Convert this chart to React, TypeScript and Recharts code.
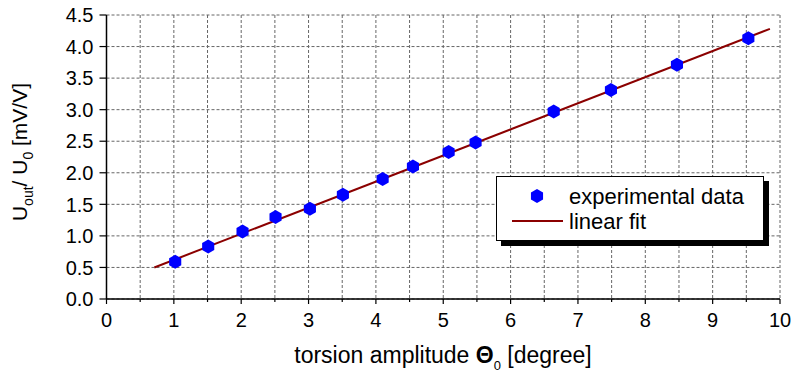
import React from 'react';
import { ComposedChart, Scatter, XAxis, YAxis, CartesianGrid } from 'recharts';

// measured points
const expX = [1.02, 1.51, 2.02, 2.51, 3.02, 3.51, 4.1, 4.55, 5.08, 5.48, 6.64, 7.49, 8.47, 9.53];
const expY = [0.59, 0.83, 1.07, 1.3, 1.43, 1.65, 1.9, 2.1, 2.33, 2.48, 2.97, 3.31, 3.71, 4.13];

// linear fit end points
const fitX = [0.71, 9.85];
const fitY = [0.5, 4.28];

const xTicks = [0, 0.5, 1, 1.5, 2, 2.5, 3, 3.5, 4, 4.5, 5, 5.5, 6, 6.5, 7, 7.5, 8, 8.5, 9, 9.5, 10];
const yTicks = [0, 0.5, 1, 1.5, 2, 2.5, 3, 3.5, 4, 4.5];
const yMinorTicks = [0, 0.25, 0.5, 0.75, 1, 1.25, 1.5, 1.75, 2, 2.25, 2.5, 2.75, 3, 3.25, 3.5, 3.75, 4, 4.25, 4.5];
const topTicks = [0, 1, 2, 3, 4, 5, 6, 7, 8, 9, 10, 11, 12, 13, 14, 15, 16, 17, 18, 19, 20, 21];
const rightTicks = [0, 1, 2, 3, 4, 5, 6, 7, 8, 9, 10, 11, 12, 13, 14, 15, 16, 17, 18, 19, 20, 21, 22, 23];
const yDomain = [0, 4.5];

const expData = expX.map((x, i) => ({ x, y: expY[i] }));
const fitData = fitX.map((x, i) => ({ x, y: fitY[i] }));

const FONT = '"Liberation Sans", Arial, Helvetica, sans-serif';
const BLUE = '#0000ff';
const RED = '#8b0000';

const Hexagon = ({ cx, cy, r = 7, fill = BLUE }: any) => {
  const pts = [-90, -30, 30, 90, 150, 210]
    .map((a) => {
      const t = (a * Math.PI) / 180;
      return `${cx + r * Math.cos(t)},${cy + r * Math.sin(t)}`;
    })
    .join(' ');
  return <polygon points={pts} fill={fill} />;
};

const NoDot = () => <g />;

// grid only every 0.5 while the axis has minor ticks every 0.25
const gridRows = ({ yAxis, offset }: any) => {
  const s = yAxis && yAxis.scale;
  if (typeof s === 'function') return yTicks.map((v) => s(v));
  if (s && typeof s.map === 'function') return yTicks.map((v) => s.map(v));
  const [lo, hi] = yDomain;
  return yTicks.map((v) => offset.top + offset.height * (1 - (v - lo) / (hi - lo)));
};

const BottomTick = ({ x, y, payload }: any) => {
  const v = payload.value;
  const major = Number.isInteger(v);
  return (
    <g>
      <line x1={x} x2={x} y1={y} y2={y + (major ? 5 : 3)} stroke="#000" strokeWidth={1.2} />
      {major && (
        <text x={x} y={y + 28} textAnchor="middle" fontSize={20} fontFamily={FONT} fill="#000">
          {v}
        </text>
      )}
    </g>
  );
};

const LeftTick = ({ x, y, payload }: any) => {
  const v = payload.value;
  const major = Math.abs(v * 2 - Math.round(v * 2)) < 1e-6;
  return (
    <g>
      <line x1={x - (major ? 7 : 4)} x2={x} y1={y} y2={y} stroke="#000" strokeWidth={1.2} />
      {major && (
        <text x={x - 13} y={y} dy="0.36em" textAnchor="end" fontSize={20} fontFamily={FONT} fill="#000">
          {v.toFixed(1)}
        </text>
      )}
    </g>
  );
};

const TopTick = ({ x, y, payload }: any) => (
  <line x1={x} x2={x} y1={y} y2={y + (payload.value % 2 === 0 ? 6 : 3)} stroke="#000" strokeWidth={1.2} />
);

const RightTick = ({ x, y, payload }: any) => (
  <line x1={x - (payload.value % 2 === 0 ? 6 : 4)} x2={x} y1={y} y2={y} stroke="#000" strokeWidth={1.2} />
);

export default function App() {
  return (
    <div style={{ position: 'absolute', left: 0, top: 0, width: 795, height: 374, background: '#fff', fontFamily: FONT }}>
      <ComposedChart width={795} height={374} margin={{ top: 15, right: 15, bottom: 0, left: 0 }}>
        <CartesianGrid stroke="#666" strokeDasharray="3 2" horizontalCoordinatesGenerator={gridRows} />
        <XAxis
          type="number"
          dataKey="x"
          domain={[0, 10]}
          ticks={xTicks}
          height={75}
          tickSize={0}
          tickMargin={0}
          tickLine={false}
          tick={<BottomTick />}
          axisLine={{ stroke: '#000', strokeWidth: 1.5 }}
          allowDataOverflow
        />
        <XAxis
          xAxisId="top"
          orientation="top"
          type="number"
          domain={[0, 21.95]}
          ticks={topTicks}
          height={0}
          tickSize={0}
          tickMargin={0}
          tickLine={false}
          tick={<TopTick />}
          axisLine={{ stroke: '#000', strokeWidth: 1.5 }}
          allowDataOverflow
        />
        <YAxis
          type="number"
          dataKey="y"
          domain={yDomain}
          ticks={yMinorTicks}
          width={106.5}
          tickSize={0}
          tickMargin={0}
          tickLine={false}
          tick={<LeftTick />}
          axisLine={{ stroke: '#000', strokeWidth: 1.5 }}
          allowDataOverflow
        />
        <YAxis
          yAxisId="right"
          orientation="right"
          type="number"
          domain={[0, 23]}
          ticks={rightTicks}
          width={0}
          tickSize={0}
          tickMargin={0}
          tickLine={false}
          tick={<RightTick />}
          axisLine={{ stroke: '#000', strokeWidth: 1.5 }}
          allowDataOverflow
        />
        <Scatter
          data={fitData}
          shape={<NoDot />}
          line={{ stroke: RED, strokeWidth: 2 }}
          lineType="joint"
          isAnimationActive={false}
        />
        <Scatter data={expData} shape={<Hexagon />} isAnimationActive={false} />
      </ComposedChart>

      <svg width={795} height={374} style={{ position: 'absolute', left: 0, top: 0, pointerEvents: 'none' }}>
        <text x={443} y={363} textAnchor="middle" fontSize={23} fontFamily={FONT} fill="#000">
          torsion amplitude <tspan fontWeight="bold">Θ</tspan>
          <tspan fontSize={13} dy={7}>0</tspan>
          <tspan dy={-7}> [degree]</tspan>
        </text>
        <text transform="translate(26.5,152) rotate(-90)" textAnchor="middle" fontSize={21} fontFamily={FONT} fill="#000">
          U<tspan fontSize={14} dy={6}>out</tspan>
          <tspan dy={-6}>/ U</tspan>
          <tspan fontSize={14} dy={6}>0</tspan>
          <tspan dy={-6}> [mV/V]</tspan>
        </text>
      </svg>

      <div
        style={{
          position: 'absolute',
          left: 496,
          top: 176,
          width: 268,
          height: 65,
          boxSizing: 'border-box',
          border: '1px solid #000',
          background: '#fff',
          boxShadow: '5px 5px 0 #000',
        }}
      >
        <svg width={266} height={63} style={{ display: 'block' }}>
          <Hexagon cx={40} cy={19} r={7} />
          <text x={72} y={19} dy="0.36em" fontSize={22} fontFamily={FONT} fill="#000">
            experimental data
          </text>
          <line x1={15} x2={66} y1={44} y2={44} stroke={RED} strokeWidth={2} />
          <text x={72} y={44} dy="0.36em" fontSize={22} fontFamily={FONT} fill="#000">
            linear fit
          </text>
        </svg>
      </div>
    </div>
  );
}
